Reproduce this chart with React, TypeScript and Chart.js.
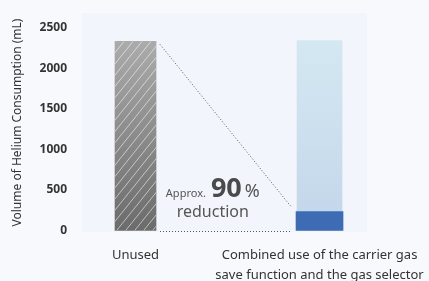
import React, { useEffect, useRef } from "react";
import { Chart, registerables } from "chart.js";

Chart.register(...registerables);

// ---- data ----
const categories: (string | string[])[] = [
  "Unused",
  ["Combined use of the carrier gas", "save function and the gas selector"],
];
const categoryPositions = [0, 1];
const unusedValues = [2330]; // at category 0
const referenceValues = [2340]; // ghost bar at category 1 (original consumption)
const reducedValues = [233]; // at category 1
const yTicks = [0, 500, 1000, 1500, 2000, 2500];
const yTitle = "Volume of Helium Consumption (mL)";
const noteApprox = "Approx.";
const notePercent = "90";
const noteUnit = "%";
const noteReduction = "reduction";

const FONT = "'Noto Sans', 'Open Sans', sans-serif";

function vGradient(ctx: any, top: number, bottom: number, c1: string, c2: string) {
  const g = ctx.createLinearGradient(0, top, 0, bottom);
  g.addColorStop(0, c1);
  g.addColorStop(1, c2);
  return g;
}

const decorPlugin = {
  id: "decor",
  beforeDraw(chart: any) {
    const { ctx, chartArea: a, width, height } = chart;
    ctx.save();
    ctx.fillStyle = "#f8f9fc";
    ctx.fillRect(0, 0, width, height);
    ctx.fillStyle = "#f2f5fb";
    ctx.fillRect(a.left, a.top, a.right - a.left, a.bottom - a.top);
    ctx.restore();
  },
  afterDatasetsDraw(chart: any) {
    const { ctx } = chart;
    const xs = chart.scales.x;
    const ys = chart.scales.y;
    const unusedEl = chart.getDatasetMeta(2).data[0];
    const darkEl = chart.getDatasetMeta(0).data[0];
    if (!unusedEl || !darkEl) return;
    const u = unusedEl.getProps(["x", "y", "base", "width"], true);
    const d = darkEl.getProps(["x", "y", "base", "width"], true);

    // hatch on unused bar
    ctx.save();
    ctx.beginPath();
    ctx.rect(u.x - u.width / 2, u.y, u.width, u.base - u.y);
    ctx.clip();
    ctx.strokeStyle = "rgba(255,255,255,0.55)";
    ctx.lineWidth = 1;
    const H = u.base - u.y;
    const slope = 1.25;
    const left = u.x - u.width / 2;
    const right = u.x + u.width / 2;
    for (let sx = left - H / slope; sx < right + 10; sx += 9) {
      ctx.beginPath();
      ctx.moveTo(sx, u.base);
      ctx.lineTo(sx + H / slope, u.y);
      ctx.stroke();
    }
    ctx.restore();

    // dotted connectors
    ctx.save();
    ctx.strokeStyle = "#5a5a5a";
    ctx.lineWidth = 1;
    ctx.setLineDash([1, 2]);
    const x0 = u.x + u.width / 2 + 4;
    const x1 = d.x - d.width / 2 - 5;
    ctx.beginPath();
    ctx.moveTo(x0, u.y + 3);
    ctx.lineTo(x1, d.y - 5);
    ctx.stroke();
    const zeroY = Math.round(ys.getPixelForValue(0)) + 0.5;
    ctx.beginPath();
    ctx.moveTo(x0, zeroY);
    ctx.lineTo(x1, zeroY);
    ctx.stroke();
    ctx.restore();

    // annotation text
    ctx.save();
    ctx.textBaseline = "alphabetic";
    const line1Y = ys.getPixelForValue(416);
    const line2Y = ys.getPixelForValue(170);
    const cx1 = xs.getPixelForValue(0.42);
    const cx2 = xs.getPixelForValue(0.42);
    const fA = `11px ${FONT}`;
    const fN = `bold 27px ${FONT}`;
    const fP = `18px ${FONT}`;
    ctx.font = fA;
    const wA = ctx.measureText(noteApprox).width;
    ctx.font = fN;
    const wN = ctx.measureText(notePercent).width;
    ctx.font = fP;
    const wP = ctx.measureText(noteUnit).width;
    const gap1 = 5;
    const gap2 = 3;
    const total = wA + gap1 + wN + gap2 + wP;
    let tx = cx1 - total / 2;
    ctx.textAlign = "left";
    ctx.fillStyle = "#555555";
    ctx.font = fA;
    ctx.fillText(noteApprox, tx, line1Y);
    tx += wA + gap1;
    ctx.fillStyle = "#4a4a4a";
    ctx.font = fN;
    ctx.fillText(notePercent, tx, line1Y);
    tx += wN + gap2;
    ctx.fillStyle = "#555555";
    ctx.font = fP;
    ctx.fillText(noteUnit, tx, line1Y);
    ctx.textAlign = "center";
    ctx.font = `16px ${FONT}`;
    ctx.fillText(noteReduction, cx2, line2Y);
    ctx.restore();
  },
};

export default function App() {
  const ref = useRef<HTMLCanvasElement | null>(null);

  useEffect(() => {
    if (!ref.current) return;
    const chart = new Chart(ref.current, {
      type: "bar",
      data: {
        datasets: [
          {
            label: "reduced",
            data: reducedValues.map((v) => ({ x: categoryPositions[1], y: v })),
            backgroundColor: "#3d6cb5",
            barThickness: 47,
            grouped: false,
            order: 0,
          } as any,
          {
            label: "reference",
            data: referenceValues.map((v) => ({ x: categoryPositions[1], y: v })),
            backgroundColor: (c: any) => {
              const { chart: ch } = c;
              if (!ch.chartArea) return "#cfe2ef";
              const ys = ch.scales.y;
              return vGradient(
                ch.ctx,
                ys.getPixelForValue(referenceValues[0]),
                ys.getPixelForValue(0),
                "#d4e8f2",
                "#c3d6ea"
              );
            },
            barThickness: 45,
            grouped: false,
            order: 1,
          } as any,
          {
            label: "unused",
            data: unusedValues.map((v) => ({ x: categoryPositions[0], y: v })),
            backgroundColor: (c: any) => {
              const { chart: ch } = c;
              if (!ch.chartArea) return "#999";
              const ys = ch.scales.y;
              return vGradient(
                ch.ctx,
                ys.getPixelForValue(unusedValues[0]),
                ys.getPixelForValue(0),
                "#ababab",
                "#6b6b6b"
              );
            },
            barThickness: 41,
            grouped: false,
            order: 2,
          } as any,
        ],
      },
      options: {
        animation: false,
        responsive: false,
        devicePixelRatio: 1,
        layout: { padding: { top: 13, right: 62, left: 0, bottom: 0 } },
        plugins: {
          legend: { display: false },
          tooltip: { enabled: false },
        },
        scales: {
          x: {
            type: "linear",
            offset: false,
            min: -0.2908,
            max: 1.258,
            grid: { display: false, drawTicks: false, offset: false },
            border: { display: false },
            afterBuildTicks: (s: any) => {
              s.ticks = categoryPositions.map((v) => ({ value: v }));
            },
            afterFit: (s: any) => {
              s.paddingLeft = 0;
              s.paddingRight = 0;
              s.height = 49;
            },
            ticks: {
              autoSkip: false,
              maxRotation: 0,
              minRotation: 0,
              padding: 13,
              color: "#333333",
              font: { family: FONT, size: 13, lineHeight: 20 / 13 },
              callback: (_v: any, i: number) => categories[i] as any,
            },
          },
          y: {
            type: "linear",
            min: -18,
            max: 2679,
            grid: { display: false, drawTicks: false },
            border: { display: false },
            afterBuildTicks: (s: any) => {
              s.ticks = yTicks.map((v) => ({ value: v }));
            },
            afterFit: (s: any) => {
              s.width = 82;
              s.paddingTop = 0;
              s.paddingBottom = 0;
            },
            ticks: {
              padding: 15,
              color: "#333333",
              font: { family: FONT, size: 12, weight: "bold" },
              callback: (v: any) => String(v),
            },
            title: {
              display: true,
              text: yTitle,
              color: "#333333",
              font: { family: FONT, size: 12 },
              padding: { top: 10, bottom: 0 },
            },
          },
        },
      } as any,
      plugins: [decorPlugin],
    });
    return () => chart.destroy();
  }, []);

  return (
    <div style={{ position: "fixed", left: 0, top: 0, width: 429, height: 281 }}>
      <canvas ref={ref} width={429} height={281} style={{ display: "block" }} />
    </div>
  );
}
